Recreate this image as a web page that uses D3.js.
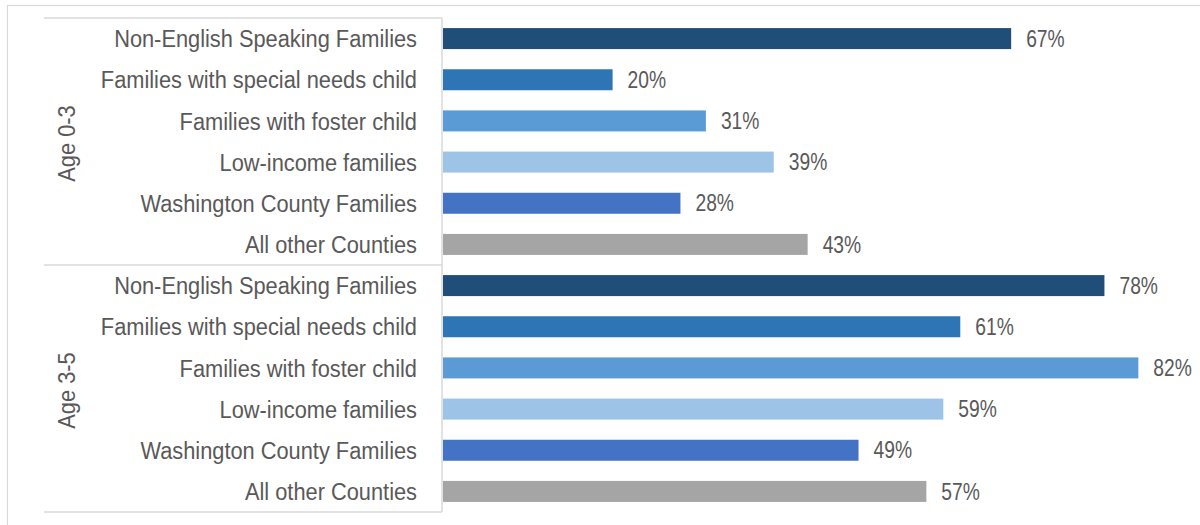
<!DOCTYPE html>
<html>
<head>
<meta charset="utf-8">
<script src="https://cdn.jsdelivr.net/npm/d3@7"></script>
<style>
  html, body { margin: 0; padding: 0; background: #fff; }
  svg { display: block; }
  text { font-family: "Liberation Sans", Arial, sans-serif; fill: #595959; }
</style>
</head>
<body>
<svg id="chart" width="1200" height="525"></svg>
<script>
const groups = ["Age 0-3", "Age 3-5"];
const categories = [
  "Non-English Speaking Families",
  "Families with special needs child",
  "Families with foster child",
  "Low-income families",
  "Washington County Families",
  "All other Counties"
];
const age03 = [0.67, 0.20, 0.31, 0.39, 0.28, 0.43];
const age35 = [0.78, 0.61, 0.82, 0.59, 0.49, 0.57];
const colors = ["#1f4e79", "#2e75b6", "#5b9bd5", "#9dc3e6", "#4472c4", "#a5a5a5"];

const rows = [];
[age03, age35].forEach((vals, gi) => {
  vals.forEach((v, ci) => rows.push({ key: gi + "-" + ci, group: groups[gi], cat: categories[ci], value: v, color: colors[ci] }));
});

const svg = d3.select("#chart");
const plotTop = 18, plotBottom = 512, axisX = 442, tableLeft = 44;
const fs = 23.5, catScale = 0.928, valScale = 0.82;

const x = d3.scaleLinear().domain([0, 1]).range([axisX + 1, axisX + 1 + 848]);
const y = d3.scaleBand().domain(rows.map(d => d.key)).range([plotTop, plotBottom]).paddingInner(0.49).paddingOuter(0.245);

// outer chart border
svg.append("rect").attr("x", 7.5).attr("y", 5.5).attr("width", 1200).attr("height", 530)
  .attr("fill", "none").attr("stroke", "#d9d9d9").attr("stroke-width", 1.2);

// bars
svg.append("g").selectAll("rect").data(rows).join("rect")
  .attr("x", x(0)).attr("y", d => y(d.key)).attr("width", d => x(d.value) - x(0))
  .attr("height", y.bandwidth()).attr("fill", d => d.color);

// value labels
svg.append("g").selectAll("text").data(rows).join("text")
  .attr("transform", d => `translate(${x(d.value) + 15},${y(d.key) + y.bandwidth() / 2}) scale(${valScale},1)`)
  .attr("dy", "0.35em").attr("font-size", fs).text(d => d3.format(".0%")(d.value));

// category axis (multi-level)
const yAxis = d3.axisLeft(y).tickSize(0).tickPadding(24).tickFormat(k => rows.find(r => r.key === k).cat);
const ag = svg.append("g").attr("transform", `translate(${axisX},0)`).call(yAxis);
ag.select(".domain").remove();
ag.selectAll(".tick text")
  .attr("x", 0).attr("dy", "0.37em").attr("transform", `translate(-25,0) scale(${catScale},1)`)
  .attr("font-size", fs).attr("font-family", null).style("fill", "#595959");

// group separator lines
const step = y.step();
const gb = [plotTop, plotTop + step * 6, plotBottom];
svg.append("g").selectAll("line").data(gb).join("line")
  .attr("x1", tableLeft).attr("x2", axisX).attr("y1", d => d).attr("y2", d => d)
  .attr("stroke", "#d9d9d9").attr("stroke-width", 1.5);
svg.append("line").attr("x1", axisX).attr("x2", axisX).attr("y1", plotTop).attr("y2", plotBottom)
  .attr("stroke", "#d9d9d9").attr("stroke-width", 1.5);

// group labels
svg.append("g").selectAll("text").data(groups).join("text")
  .attr("transform", (d, i) => `translate(67,${(gb[i] + gb[i + 1]) / 2 + 2}) rotate(-90) scale(${catScale},1)`)
  .attr("text-anchor", "middle").attr("dy", "0.35em").attr("font-size", fs).text(d => d);
</script>
</body>
</html>
